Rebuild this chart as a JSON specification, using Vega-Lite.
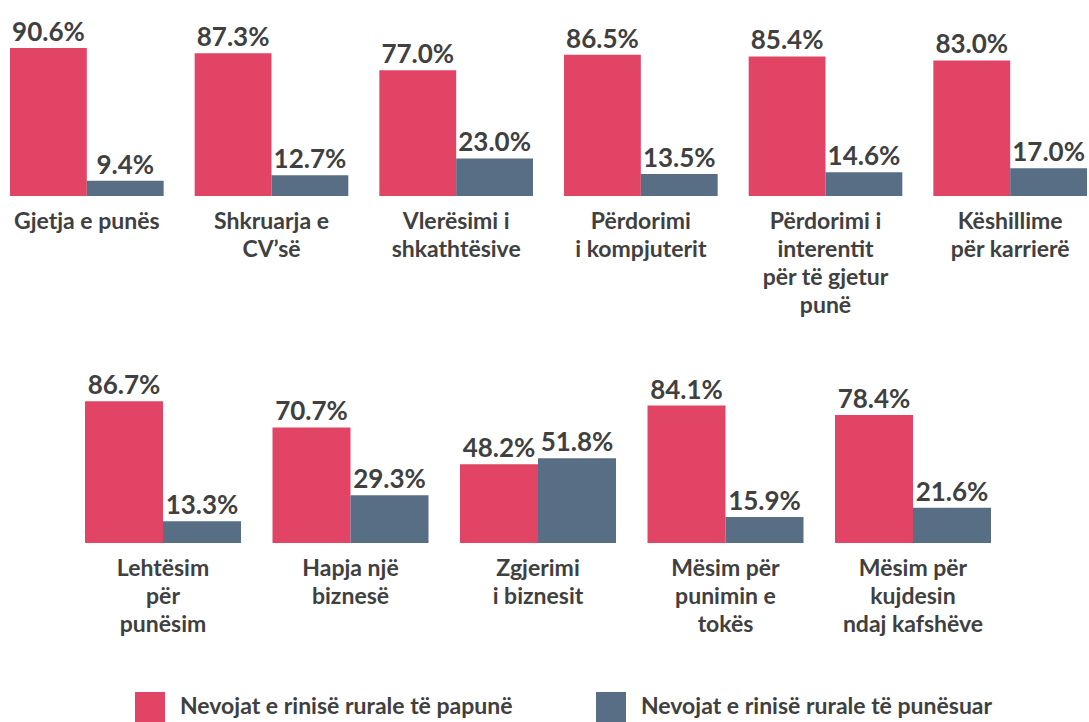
{
  "$schema": "https://vega.github.io/schema/vega-lite/v6.json",
  "padding": {"left": 10, "top": 13, "right": 0, "bottom": 0},
  "background": "white",
  "config": {"view": {"stroke": null}, "font": "Lato"},
  "datasets": {
    "d": [
      {"cat": "Gjetja e punës", "row": 1, "series": "Nevojat e rinisë rurale të papunë", "value": 90.6},
      {"cat": "Gjetja e punës", "row": 1, "series": "Nevojat e rinisë rurale të punësuar", "value": 9.4},
      {"cat": "Shkruarja e|CV’së", "row": 1, "series": "Nevojat e rinisë rurale të papunë", "value": 87.3},
      {"cat": "Shkruarja e|CV’së", "row": 1, "series": "Nevojat e rinisë rurale të punësuar", "value": 12.7},
      {"cat": "Vlerësimi i|shkathtësive", "row": 1, "series": "Nevojat e rinisë rurale të papunë", "value": 77.0},
      {"cat": "Vlerësimi i|shkathtësive", "row": 1, "series": "Nevojat e rinisë rurale të punësuar", "value": 23.0},
      {"cat": "Përdorimi|i kompjuterit", "row": 1, "series": "Nevojat e rinisë rurale të papunë", "value": 86.5},
      {"cat": "Përdorimi|i kompjuterit", "row": 1, "series": "Nevojat e rinisë rurale të punësuar", "value": 13.5},
      {"cat": "Përdorimi i|interentit|për të gjetur|punë", "row": 1, "series": "Nevojat e rinisë rurale të papunë", "value": 85.4},
      {"cat": "Përdorimi i|interentit|për të gjetur|punë", "row": 1, "series": "Nevojat e rinisë rurale të punësuar", "value": 14.6},
      {"cat": "Këshillime|për karrierë", "row": 1, "series": "Nevojat e rinisë rurale të papunë", "value": 83.0},
      {"cat": "Këshillime|për karrierë", "row": 1, "series": "Nevojat e rinisë rurale të punësuar", "value": 17.0},
      {"cat": "Lehtësim|për|punësim", "row": 2, "series": "Nevojat e rinisë rurale të papunë", "value": 86.7},
      {"cat": "Lehtësim|për|punësim", "row": 2, "series": "Nevojat e rinisë rurale të punësuar", "value": 13.3},
      {"cat": "Hapja një|biznesë", "row": 2, "series": "Nevojat e rinisë rurale të papunë", "value": 70.7},
      {"cat": "Hapja një|biznesë", "row": 2, "series": "Nevojat e rinisë rurale të punësuar", "value": 29.3},
      {"cat": "Zgjerimi|i biznesit", "row": 2, "series": "Nevojat e rinisë rurale të papunë", "value": 48.2},
      {"cat": "Zgjerimi|i biznesit", "row": 2, "series": "Nevojat e rinisë rurale të punësuar", "value": 51.8},
      {"cat": "Mësim për|punimin e|tokës", "row": 2, "series": "Nevojat e rinisë rurale të papunë", "value": 84.1},
      {"cat": "Mësim për|punimin e|tokës", "row": 2, "series": "Nevojat e rinisë rurale të punësuar", "value": 15.9},
      {"cat": "Mësim për|kujdesin|ndaj kafshëve", "row": 2, "series": "Nevojat e rinisë rurale të papunë", "value": 78.4},
      {"cat": "Mësim për|kujdesin|ndaj kafshëve", "row": 2, "series": "Nevojat e rinisë rurale të punësuar", "value": 21.6}
    ]
  },
  "data": {"name": "d"},
  "spacing": 43,
  "resolve": {"scale": {"x": "independent", "y": "independent", "xOffset": "independent"}},
  "vconcat": [
    {
      "width": 1077,
      "height": 183,
      "transform": [{"filter": "datum.row == 1"}, {"calculate": "format(datum.value, '.1f') + '%'", "as": "lbl"}],
      "encoding": {
        "x": {
          "field": "cat", "type": "nominal", "sort": null,
          "scale": {"paddingInner": 0.168, "paddingOuter": 0},
          "axis": {"title": null, "domain": false, "ticks": false, "labelAngle": 0, "labelExpr": "split(datum.label, '|')", "labelFont": "Lato", "labelFontSize": 23, "labelFontWeight": "bold", "labelColor": "#404040", "labelPadding": 14, "labelLineHeight": 28, "labelLimit": 400}
        },
        "xOffset": {"field": "series", "type": "nominal", "sort": null, "scale": {"paddingInner": 0, "paddingOuter": 0}},
        "y": {"field": "value", "type": "quantitative", "scale": {"domain": [0, 112], "nice": false}, "axis": null}
      },
      "layer": [
        {
          "mark": {"type": "bar"},
          "encoding": {
            "color": {"field": "series", "type": "nominal", "sort": null,
              "scale": {"domain": ["Nevojat e rinisë rurale të papunë", "Nevojat e rinisë rurale të punësuar"], "range": ["#E24466", "#586E85"]},
              "legend": {"title": null, "orient": "none", "legendX": 125, "legendY": 679, "direction": "horizontal", "symbolType": "square", "symbolSize": 900, "symbolStrokeWidth": 0, "labelFont": "Lato", "labelFontSize": 23, "labelFontWeight": "bold", "labelColor": "#404040", "labelOffset": 15, "columnPadding": 83, "labelLimit": 500}}
          }
        },
        {
          "mark": {"type": "text", "baseline": "alphabetic", "dy": -7, "font": "Lato", "fontSize": 26, "fontWeight": "bold", "color": "#404040"},
          "encoding": {"text": {"field": "lbl", "type": "nominal"}}
        }
      ]
    },
    {
      "width": 1056,
      "height": 183,
      "transform": [{"filter": "datum.row == 2"}, {"calculate": "format(datum.value, '.1f') + '%'", "as": "lbl"}],
      "encoding": {
        "x": {
          "field": "cat", "type": "nominal", "sort": null,
          "scale": {"paddingInner": 0.168, "paddingOuter": 0.4},
          "axis": {"title": null, "domain": false, "ticks": false, "labelAngle": 0, "labelExpr": "split(datum.label, '|')", "labelFont": "Lato", "labelFontSize": 23, "labelFontWeight": "bold", "labelColor": "#404040", "labelPadding": 14, "labelLineHeight": 28, "labelLimit": 400}
        },
        "xOffset": {"field": "series", "type": "nominal", "sort": null, "scale": {"paddingInner": 0, "paddingOuter": 0}},
        "y": {"field": "value", "type": "quantitative", "scale": {"domain": [0, 112], "nice": false}, "axis": null}
      },
      "layer": [
        {
          "mark": {"type": "bar"},
          "encoding": {
            "color": {"field": "series", "type": "nominal", "sort": null,
              "scale": {"domain": ["Nevojat e rinisë rurale të papunë", "Nevojat e rinisë rurale të punësuar"], "range": ["#E24466", "#586E85"]},
              "legend": {"title": null, "orient": "none", "legendX": 125, "legendY": 679, "direction": "horizontal", "symbolType": "square", "symbolSize": 900, "symbolStrokeWidth": 0, "labelFont": "Lato", "labelFontSize": 23, "labelFontWeight": "bold", "labelColor": "#404040", "labelOffset": 15, "columnPadding": 83, "labelLimit": 500}}
          }
        },
        {
          "mark": {"type": "text", "baseline": "alphabetic", "dy": -7, "font": "Lato", "fontSize": 26, "fontWeight": "bold", "color": "#404040"},
          "encoding": {"text": {"field": "lbl", "type": "nominal"}}
        }
      ]
    }
  ]
}
